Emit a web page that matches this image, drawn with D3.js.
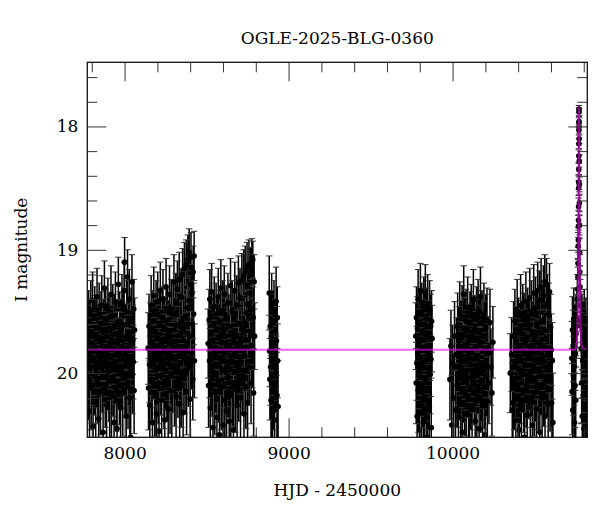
<!DOCTYPE html>
<html><head><meta charset="utf-8">
<script src="https://cdn.jsdelivr.net/npm/d3@7"></script>
<style>body{margin:0;background:#fff}svg{display:block}</style>
</head><body><svg id="c" width="600" height="512"></svg>
<script>
const title = "OGLE-2025-BLG-0360";
const xLabel = "HJD - 2450000";
const yLabel = "I magnitude";
const xTickValues = [8000, 9000, 10000];
const yTickValues = [18, 19, 20];
const xDomain = [7772.6, 10821.6];
const yDomain = [17.48, 20.52];

// observations: [HJD-2450000, I mag, error]
const season2017 = [[7776,19.72,.27],[7779,20.05,.33],[7781,19.58,.25],[7784,19.91,.30],[7786,20.31,.38],[7789,19.66,.26],[7792,19.84,.29],[7794,19.49,.24],[7797,20.12,.34],[7800,19.77,.28],[7802,19.95,.31],[7805,19.41,.23],[7808,20.43,.40],[7810,19.69,.27],[7813,19.88,.30],[7816,20.02,.32],[7818,19.55,.25],[7821,19.79,.28],[7824,20.21,.36],[7826,19.63,.26],[7829,19.97,.31],[7832,19.38,.23],[7834,19.83,.29],[7837,20.08,.33],[7840,19.71,.27],[7842,20.37,.39],[7845,19.52,.25],[7848,19.90,.30],[7850,19.74,.28],[7853,20.15,.35],[7856,19.60,.26],[7858,19.86,.29],[7861,19.45,.24],[7864,20.00,.32],[7866,19.78,.28],[7869,20.48,.41],[7872,19.67,.27],[7874,19.93,.31],[7877,19.31,.22],[7880,19.82,.29],[7882,20.10,.34],[7885,19.57,.25],[7888,19.89,.30],[7890,20.26,.37],[7893,19.70,.27],[7896,19.99,.31],[7898,19.47,.24],[7901,19.81,.29],[7904,20.06,.33],[7906,19.64,.26],[7909,20.55,.42],[7912,19.76,.28],[7914,19.92,.30],[7917,19.36,.23],[7920,20.18,.35],[7922,19.73,.28],[7925,19.87,.30],[7928,19.53,.25],[7930,20.03,.32],[7933,19.80,.29],[7936,20.40,.40],[7938,19.62,.26],[7941,19.94,.31],[7944,19.42,.24],[7946,19.85,.29],[7949,20.13,.34],[7952,19.68,.27],[7954,20.45,.41],[7957,19.75,.28],[7960,19.96,.31],[7962,19.28,.22],[7965,19.84,.29],[7968,20.09,.33],[7970,19.59,.25],[7973,19.90,.30],[7976,20.28,.37],[7978,19.66,.26],[7981,19.98,.31],[7984,19.44,.24],[7986,19.79,.28],[7989,20.16,.35],[7992,19.61,.26],[7994,19.88,.30],[7997,19.33,.23],[8000,19.10,.20],[8002,20.04,.32],[8005,19.71,.27],[8008,19.93,.30],[8010,20.35,.38],[8013,19.50,.25],[8016,19.82,.29],[8018,19.22,.22],[8021,20.11,.34],[8024,19.69,.27],[8026,19.95,.31],[8029,19.40,.24],[8032,20.20,.36],[8034,19.77,.28],[8037,20.52,.42],[8040,19.56,.25],[8042,19.87,.30],[8045,19.26,.22],[8048,20.01,.32],[8050,19.73,.28],[8053,19.91,.30],[8056,19.48,.24],[8058,20.14,.35],[8061,19.65,.26]];
const season2018 = [[8144,19.80,.29],[8146,20.12,.34],[8149,19.62,.26],[8152,19.93,.31],[8154,20.26,.36],[8157,19.70,.27],[8160,19.88,.30],[8162,19.45,.24],[8165,20.05,.33],[8168,19.75,.28],[8170,20.40,.40],[8173,19.58,.25],[8176,19.91,.30],[8178,19.37,.23],[8181,19.84,.29],[8184,20.16,.35],[8186,19.66,.26],[8189,19.97,.31],[8192,19.50,.25],[8194,20.33,.38],[8197,19.78,.28],[8200,19.95,.31],[8202,19.42,.24],[8205,20.08,.33],[8208,19.72,.27],[8210,20.47,.41],[8213,19.60,.26],[8216,19.86,.29],[8218,19.33,.23],[8221,20.02,.32],[8224,19.76,.28],[8226,20.22,.36],[8229,19.55,.25],[8232,19.90,.30],[8234,19.40,.24],[8237,19.81,.29],[8240,20.11,.34],[8242,19.64,.26],[8245,20.38,.39],[8248,19.73,.28],[8250,19.98,.31],[8253,19.30,.23],[8256,19.85,.29],[8258,20.06,.33],[8261,19.57,.25],[8264,19.92,.30],[8266,20.29,.37],[8269,19.68,.27],[8272,19.83,.29],[8274,19.36,.23],[8277,20.14,.35],[8280,19.71,.27],[8282,19.94,.31],[8285,19.48,.24],[8288,20.55,.42],[8290,19.77,.28],[8293,20.00,.32],[8296,19.52,.25],[8298,19.87,.30],[8301,19.26,.22],[8304,20.09,.34],[8306,19.65,.26],[8309,19.89,.30],[8312,19.43,.24],[8314,20.19,.35],[8317,19.74,.28],[8320,19.96,.31],[8322,19.32,.23],[8325,20.04,.32],[8328,19.61,.26],[8330,19.86,.29],[8333,19.24,.22],[8336,20.25,.36],[8338,19.69,.27],[8341,19.92,.30],[8344,19.38,.23],[8346,20.10,.34],[8349,19.58,.25],[8352,19.82,.29],[8354,19.20,.21],[8357,20.32,.37],[8360,19.63,.26],[8362,19.88,.30],[8365,19.15,.21],[8368,20.01,.32],[8370,19.54,.25],[8373,19.79,.28],[8376,19.12,.20],[8378,20.15,.35],[8381,19.47,.24],[8384,19.75,.28],[8386,19.08,.20],[8389,19.96,.31],[8392,19.41,.24],[8394,19.02,.19],[8397,19.70,.27],[8400,20.21,.36],[8402,19.28,.22],[8405,19.06,.20],[8408,19.84,.29],[8410,19.35,.23],[8413,19.60,.26],[8416,20.05,.33],[8418,19.18,.21],[8421,19.52,.25],[8424,19.05,.20],[8426,19.90,.30]];
const season2019 = [[8510,19.76,.28],[8512,20.10,.34],[8515,19.57,.25],[8518,19.90,.30],[8520,19.40,.24],[8523,20.28,.37],[8526,19.68,.27],[8528,19.95,.31],[8531,19.34,.23],[8534,20.03,.32],[8536,19.73,.28],[8539,20.44,.40],[8542,19.61,.26],[8544,19.86,.29],[8547,19.46,.24],[8550,20.15,.35],[8552,19.79,.28],[8555,20.00,.32],[8558,19.52,.25],[8560,19.83,.29],[8563,20.36,.39],[8566,19.64,.26],[8568,19.93,.31],[8571,19.38,.23],[8574,20.07,.33],[8576,19.71,.27],[8579,20.50,.42],[8582,19.59,.26],[8584,19.88,.30],[8587,19.31,.23],[8590,20.12,.34],[8592,19.75,.28],[8595,19.97,.31],[8598,19.49,.24],[8600,20.42,.40],[8603,19.66,.27],[8606,19.84,.29],[8608,19.36,.23],[8611,20.22,.36],[8614,19.70,.27],[8616,19.99,.31],[8619,19.54,.25],[8622,20.31,.38],[8624,19.78,.28],[8627,19.92,.30],[8630,19.43,.24],[8632,20.04,.32],[8635,19.62,.26],[8638,20.39,.39],[8640,19.81,.29],[8643,19.96,.31],[8646,19.29,.22],[8648,20.18,.35],[8651,19.67,.27],[8654,19.89,.30],[8656,19.50,.25],[8659,20.09,.34],[8662,19.74,.28],[8664,20.46,.41],[8667,19.56,.25],[8670,19.85,.29],[8672,19.33,.23],[8675,20.13,.35],[8678,19.69,.27],[8680,19.94,.31],[8683,19.45,.24],[8686,20.26,.37],[8688,19.77,.28],[8691,19.98,.31],[8694,19.27,.22],[8696,20.06,.33],[8699,19.60,.26],[8702,19.87,.30],[8704,19.39,.24],[8707,20.20,.36],[8710,19.72,.28],[8712,19.91,.30],[8715,19.25,.22],[8718,20.02,.32],[8720,19.63,.26],[8723,19.82,.29],[8726,19.21,.21],[8728,20.33,.38],[8731,19.58,.25],[8734,19.86,.29],[8736,19.18,.21],[8739,20.11,.34],[8742,19.51,.25],[8744,19.79,.28],[8747,19.14,.20],[8750,20.24,.36],[8752,19.44,.24],[8755,19.73,.28],[8758,19.12,.20],[8760,19.95,.31],[8763,19.35,.23],[8766,19.66,.27],[8768,19.19,.21],[8771,20.08,.33],[8774,19.48,.24],[8776,19.10,.19],[8779,19.83,.29],[8782,19.08,.15],[8784,19.55,.25],[8787,20.16,.35],[8790,19.26,.22],[8793,19.70,.27]];
const season2020 = [[8882,19.35,.30],[8884,19.82,.29],[8886,20.05,.33],[8888,19.62,.26],[8890,19.95,.31],[8893,20.22,.36],[8895,19.71,.27],[8897,19.44,.25],[8899,19.88,.30],[8902,20.31,.38],[8904,19.58,.25],[8906,19.77,.28],[8908,20.12,.34],[8911,19.49,.24],[8913,19.92,.30],[8915,20.38,.39],[8917,19.66,.26],[8920,19.84,.29],[8922,20.00,.32],[8924,19.42,.28],[8926,19.74,.28],[8929,20.18,.35],[8931,19.55,.25],[8933,19.90,.30],[8936,20.27,.37]];
const season2022 = [[9776,19.70,.27],[9778,20.08,.33],[9780,19.55,.25],[9782,19.92,.30],[9784,20.35,.38],[9786,19.64,.26],[9788,19.85,.29],[9790,19.40,.24],[9792,20.14,.34],[9794,19.76,.28],[9796,19.98,.31],[9798,20.46,.40],[9800,19.59,.26],[9802,19.88,.30],[9804,19.33,.22],[9806,20.03,.32],[9808,19.73,.28],[9810,20.25,.36],[9812,19.52,.25],[9814,19.81,.29],[9816,20.10,.34],[9818,19.67,.27],[9820,19.94,.31],[9822,20.40,.39],[9824,19.46,.24],[9826,19.79,.28],[9828,20.19,.35],[9830,19.61,.26],[9832,19.90,.30],[9834,19.35,.23],[9836,20.06,.33],[9838,19.71,.27],[9840,20.30,.37],[9842,19.56,.25],[9844,19.87,.30],[9846,20.52,.42],[9848,19.44,.24],[9850,19.83,.29],[9852,20.12,.34],[9854,19.68,.27],[9856,19.96,.31],[9858,20.28,.37],[9860,19.50,.25],[9862,19.78,.28],[9864,20.01,.32],[9866,19.62,.26],[9868,19.89,.30],[9870,20.44,.40],[9872,19.58,.25],[9875,19.72,.27]];
const season2023 = [[9984,20.05,.33],[9990,19.78,.29],[9995,20.42,.40],[10000,19.92,.31],[10006,20.20,.36],[10012,19.70,.28],[10018,20.30,.38],[10024,19.85,.30],[10028,20.10,.34],[10031,19.62,.27],[10034,19.95,.31],[10036,20.36,.39],[10039,19.74,.28],[10042,20.02,.32],[10044,19.51,.25],[10047,19.88,.30],[10050,20.25,.37],[10052,19.69,.28],[10055,19.97,.31],[10058,19.55,.26],[10060,20.48,.41],[10063,19.81,.29],[10066,20.07,.33],[10068,19.36,.23],[10071,19.91,.30],[10074,20.16,.35],[10076,19.66,.27],[10079,19.99,.31],[10082,19.58,.26],[10084,20.33,.38],[10087,19.77,.28],[10090,20.04,.32],[10092,19.47,.25],[10095,19.86,.30],[10098,20.21,.36],[10100,19.72,.28],[10103,20.54,.42],[10106,19.60,.26],[10108,19.93,.31],[10111,20.12,.34],[10114,19.53,.25],[10116,19.83,.29],[10119,20.28,.37],[10122,19.68,.27],[10124,20.00,.32],[10127,19.40,.24],[10130,19.89,.30],[10132,20.09,.33],[10135,19.64,.27],[10138,20.39,.39],[10140,19.79,.29],[10143,19.96,.31],[10146,19.56,.26],[10148,20.18,.35],[10151,19.73,.28],[10154,20.01,.32],[10156,19.49,.25],[10159,19.87,.30],[10162,20.45,.40],[10164,19.67,.27],[10167,19.94,.31],[10170,19.38,.24],[10172,20.14,.34],[10175,19.75,.28],[10178,20.06,.33],[10180,19.59,.26],[10183,20.26,.37],[10186,19.82,.29],[10188,19.98,.31],[10191,19.52,.25],[10194,20.11,.34],[10196,19.70,.28],[10199,20.50,.41],[10202,19.63,.27],[10204,19.90,.30],[10207,20.03,.32],[10210,19.57,.26],[10212,20.23,.36],[10216,19.84,.30],[10222,20.08,.33],[10228,19.59,.27],[10234,19.95,.31],[10240,20.16,.35],[10246,19.75,.29]];
const season2024 = [[10352,20.00,.32],[10360,19.85,.30],[10364,20.30,.38],[10368,20.24,.36],[10372,19.70,.28],[10376,20.12,.34],[10380,19.58,.26],[10383,19.93,.31],[10386,20.38,.39],[10388,19.74,.28],[10391,20.04,.32],[10394,19.49,.25],[10396,19.86,.30],[10399,20.19,.35],[10402,19.66,.27],[10404,19.97,.31],[10407,20.46,.40],[10410,19.78,.29],[10412,20.08,.33],[10415,19.45,.25],[10418,19.89,.30],[10420,20.27,.37],[10423,19.68,.27],[10426,20.00,.32],[10428,19.53,.25],[10431,19.82,.29],[10434,20.14,.34],[10436,19.61,.26],[10439,20.52,.42],[10442,19.76,.28],[10444,19.94,.31],[10447,19.42,.24],[10450,20.10,.34],[10452,19.71,.28],[10455,20.34,.38],[10458,19.56,.25],[10460,19.87,.30],[10463,20.05,.32],[10466,19.64,.27],[10468,19.99,.31],[10471,19.39,.24],[10474,20.22,.36],[10476,19.80,.29],[10479,20.03,.32],[10482,19.50,.25],[10484,19.84,.29],[10487,20.42,.40],[10490,19.69,.27],[10492,19.95,.31],[10495,19.35,.23],[10498,20.16,.35],[10500,19.73,.28],[10503,20.06,.33],[10506,19.47,.25],[10508,19.88,.30],[10511,20.29,.37],[10514,19.60,.26],[10516,19.91,.30],[10519,19.33,.23],[10522,20.12,.34],[10524,19.67,.27],[10527,19.97,.31],[10530,19.41,.24],[10532,20.48,.41],[10535,19.77,.28],[10538,20.02,.32],[10540,19.30,.23],[10543,19.85,.29],[10546,20.20,.36],[10548,19.57,.26],[10551,19.92,.30],[10554,19.37,.24],[10556,20.09,.34],[10559,19.65,.27],[10562,19.26,.22],[10564,20.35,.38],[10567,19.72,.28],[10570,19.95,.31],[10573,19.28,.21],[10575,20.04,.32],[10578,19.44,.24],[10580,19.80,.29],[10583,20.25,.37],[10586,19.52,.25],[10588,19.86,.30],[10591,19.34,.23],[10594,20.13,.34],[10598,19.63,.27],[10602,19.81,.29],[10604,20.24,.36],[10608,19.90,.31],[10612,20.40,.40]];
const season2025 = [[10727,19.88,.30],[10729,20.15,.35],[10731,19.65,.27],[10733,20.30,.38],[10735,19.78,.29],[10737,20.02,.32],[10739,19.56,.25],[10741,19.95,.31],[10743,20.40,.40],[10745,19.72,.28],[10747,20.10,.34],[10749,19.84,.30],[10751,20.22,.36],[10753,19.68,.27],[10755,19.62,.26],[10758,19.55,.24],[10761,19.40,.20],[10763,19.32,.18],[10764,19.22,.15],[10765,19.11,.13],[10766,18.97,.11],[10767,18.92,.10],[10767.5,18.81,.09],[10768,18.76,.08],[10768.5,18.65,.07],[10769,18.50,.06],[10769.3,18.45,.06],[10769.6,18.35,.05],[10770,18.24,.05],[10770.3,18.14,.04],[10770.6,18.03,.04],[10770.8,17.97,.04],[10771,17.86,.03],[10771.2,17.88,.03],[10771.5,17.96,.04],[10772,18.10,.04],[10772.5,18.28,.05],[10773,18.47,.06],[10773.5,18.62,.07],[10774,18.80,.08],[10775,19.02,.11],[10776,19.18,.14],[10777,19.30,.17],[10779,19.45,.21],[10782,19.58,.24],[10785,19.80,.29],[10787,20.08,.33],[10789,19.62,.26],[10791,20.35,.38],[10793,19.90,.30],[10795,19.70,.28],[10797,20.18,.35],[10799,19.85,.29],[10801,20.45,.40],[10803,19.58,.26],[10805,20.00,.32],[10807,19.76,.28],[10809,20.26,.37],[10811,19.92,.30],[10813,19.66,.27],[10815,20.12,.34],[10817,19.82,.29],[10819,20.50,.41]];

// microlensing model curve
const modelHJD = [7700,10740,10750,10756,10760,10763,10765,10767,10768,10769,10770,10771,10772,10773,10774,10775,10777,10779,10782,10786,10792,10830];
const modelMag = [19.81,19.81,19.80,19.76,19.66,19.52,19.34,19.02,18.74,18.38,17.98,17.84,17.99,18.40,18.76,19.04,19.38,19.56,19.70,19.77,19.80,19.81];

const FONT = "'DejaVu Serif', serif";
const m = {l:87.3, r:587.3, t:62.3, b:437.3};
const x = d3.scaleLinear().domain(xDomain).range([m.l, m.r]);
const y = d3.scaleLinear().domain(yDomain).range([m.t, m.b]);
const svg = d3.select("#c");

svg.append("defs").append("clipPath").attr("id","clip")
  .append("rect").attr("x",m.l).attr("y",m.t).attr("width",m.r-m.l).attr("height",m.b-m.t);

const all = [].concat(season2017, season2018, season2019, season2020, season2022, season2023, season2024, season2025);
const plot = svg.append("g").attr("clip-path","url(#clip)");

const cap = 3.2;
let dBars = "", dCaps = "";
all.forEach(d => {
  const cx = x(d[0]), y1 = y(d[1]-d[2]), y2 = y(d[1]+d[2]);
  dBars += `M${cx},${y1}L${cx},${y2}`;
  dCaps += `M${cx-cap},${y1}L${cx+cap},${y1}M${cx-cap},${y2}L${cx+cap},${y2}`;
});
plot.append("path").attr("d", dBars).attr("fill","none").attr("stroke","#000").attr("stroke-width",1.5);
plot.append("path").attr("d", dCaps).attr("fill","none").attr("stroke","#333").attr("stroke-width",1);

plot.append("g").selectAll("circle").data(all).join("circle")
  .attr("cx", d => x(d[0])).attr("cy", d => y(d[1])).attr("r", 2.8).attr("fill","#000");

const model = modelHJD.map((t,i) => [t, modelMag[i]]);
plot.append("path").datum(model)
  .attr("d", d3.line().x(d => x(d[0])).y(d => y(d[1])))
  .attr("fill","none").attr("stroke","#f000f0").attr("stroke-opacity",0.6).attr("stroke-width",2);

// axes
const xMinor = d3.range(39, 55).map(v => v*200).filter(v => v % 1000 !== 0);
const yMinor = d3.range(88, 103).map(v => v/5).filter(v => Math.abs(v - Math.round(v)) > 1e-6);

function styleAxis(g){
  g.select(".domain").remove();
  g.selectAll(".tick line").attr("stroke","#333").attr("stroke-width",1);
  g.selectAll("text").attr("font-family",FONT).attr("font-size",17).attr("fill","#000");
}
svg.append("g").attr("transform",`translate(0,${m.b})`)
  .call(d3.axisBottom(x).tickValues(xTickValues).tickSizeInner(-19).tickSizeOuter(0).tickPadding(10).tickFormat(d3.format("d"))).call(styleAxis);
svg.append("g").attr("transform",`translate(0,${m.b})`)
  .call(d3.axisBottom(x).tickValues(xMinor).tickSizeInner(-10).tickSizeOuter(0).tickFormat("")).call(styleAxis);
svg.append("g").attr("transform",`translate(0,${m.t})`)
  .call(d3.axisTop(x).tickValues(xTickValues).tickSizeInner(-19).tickSizeOuter(0).tickFormat("")).call(styleAxis);
svg.append("g").attr("transform",`translate(0,${m.t})`)
  .call(d3.axisTop(x).tickValues(xMinor).tickSizeInner(-10).tickSizeOuter(0).tickFormat("")).call(styleAxis);
svg.append("g").attr("transform",`translate(${m.l},0)`)
  .call(d3.axisLeft(y).tickValues(yTickValues).tickSizeInner(-19).tickSizeOuter(0).tickPadding(9).tickFormat(d3.format("d"))).call(styleAxis);
svg.append("g").attr("transform",`translate(${m.l},0)`)
  .call(d3.axisLeft(y).tickValues(yMinor).tickSizeInner(-10).tickSizeOuter(0).tickFormat("")).call(styleAxis);
svg.append("g").attr("transform",`translate(${m.r},0)`)
  .call(d3.axisRight(y).tickValues(yTickValues).tickSizeInner(-19).tickSizeOuter(0).tickFormat("")).call(styleAxis);
svg.append("g").attr("transform",`translate(${m.r},0)`)
  .call(d3.axisRight(y).tickValues(yMinor).tickSizeInner(-10).tickSizeOuter(0).tickFormat("")).call(styleAxis);

svg.append("rect").attr("x",m.l).attr("y",m.t).attr("width",m.r-m.l).attr("height",m.b-m.t)
  .attr("fill","none").attr("stroke","#111").attr("stroke-width",1.3);

svg.append("text").attr("x",(m.l+m.r)/2).attr("y",44).attr("text-anchor","middle")
  .attr("font-family",FONT).attr("font-size",17).text(title);
svg.append("text").attr("x",(m.l+m.r)/2).attr("y",496).attr("text-anchor","middle")
  .attr("font-family",FONT).attr("font-size",17).text(xLabel);
svg.append("text").attr("transform",`translate(27,${(m.t+m.b)/2}) rotate(-90)`).attr("text-anchor","middle")
  .attr("font-family",FONT).attr("font-size",17).text(yLabel);
</script></body></html>
